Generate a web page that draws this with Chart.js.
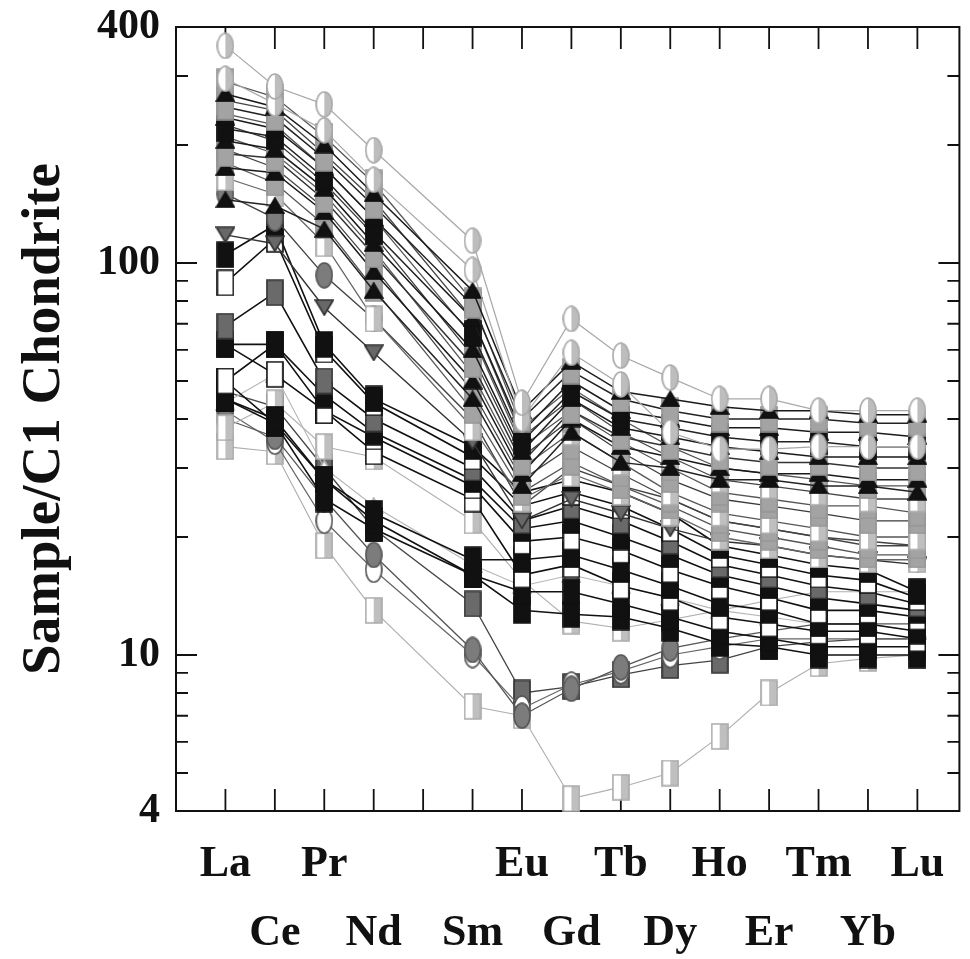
<!DOCTYPE html>
<html lang="en">
<head>
<meta charset="UTF-8">
<title>REE chondrite-normalised pattern</title>
<script src="https://cdn.jsdelivr.net/npm/chart.js"></script>
<style>
  body { margin: 0; background: #fff; }
  #wrap { width: 970px; height: 959px; }
</style>
</head>
<body>
<div id="wrap"><canvas id="ree"></canvas></div>
<script>
// elements along the x axis (Pm has no data)
const elements = ['La', 'Ce', 'Pr', 'Nd', 'Pm', 'Sm', 'Eu', 'Gd', 'Tb', 'Dy', 'Ho', 'Er', 'Tm', 'Yb', 'Lu'];
const tickNames = ['La', 'Ce', 'Pr', 'Nd', '', 'Sm', 'Eu', 'Gd', 'Tb', 'Dy', 'Ho', 'Er', 'Tm', 'Yb', 'Lu'];
const yLabels = [4, 10, 100, 400];
const yMinor = [5, 6, 7, 8, 9, 20, 30, 40, 50, 60, 70, 80, 90, 200, 300];
const yMajor = [10, 100];

// sample / C1 chondrite
const g1 = [358, 282, 254, 194, null, 114, 44, 72, 58, 51, 45, 45, 42, 42, 42];
const g2 = [295, 255, 218, 163, null, 96, 40, 59, 49, 37, 33.5, 33.5, 34, 34, 34];

const d1 = [270, 250, 200, 150, null, 85, 42, 56, 47, 45, 43, 42, 42, 41, 41];
const d2 = [250, 235, 185, 140, null, 78, 40, 53, 45, 42, 40, 40, 40, 39, 39];
const d3 = [235, 220, 175, 130, null, 72, 37, 50, 42, 40, 38, 38, 37, 37, 36];
const d4 = [220, 210, 165, 120, null, 66, 35, 47, 40, 38, 36, 35, 35, 34, 34];
const d5 = [205, 195, 155, 112, null, 60, 33, 45, 38, 36, 34, 33, 32, 32, 32];
const d6 = [190, 185, 145, 105, null, 55, 31, 42, 36, 34, 32, 31, 31, 30, 30];
const d7 = [175, 170, 135, 95, null, 50, 29, 40, 34, 32, 30, 29, 29, 28, 28];
const d8 = [145, 140, 122, 85, null, 45, 27, 37, 31, 30, 28, 28, 27, 27, 26];

const s1 = [290, 265, 210, 160, null, 80, 38, 48, 40, 34, 30, 29, 28, 27, 27];
const s2 = [260, 245, 190, 145, null, 72, 36, 45, 37, 32, 28, 27, 26, 25, 25];
const s3 = [240, 225, 175, 130, null, 65, 34, 42, 35, 30, 26, 25, 24, 24, 23];
const s4 = [225, 205, 160, 118, null, 58, 32, 40, 33, 28, 25, 24, 23, 22, 22];
const s5 = [210, 190, 150, 108, null, 52, 30, 37, 31, 26, 23, 22, 21, 20, 20];
const s6 = [195, 175, 138, 98, null, 47, 28, 34, 29, 25, 22, 21, 20, 19, 19];
const s7 = [180, 160, 125, 86, null, 42, 26, 31, 27, 24, 21, 20, 19, 18, 18];
const s8 = [165, 150, 112, 72, null, 38, 25, 29, 26, 23, 20, 19, 18, 17.5, 17.5];

const t1 = [118, 112, 77, 59, null, 35, 22, 25, 23, 21, 19.5, 19, 18, 17.5, 17];
const t2 = [150, 130, 93, 72, null, 40, 24, 30, 27, 25, 22, 21, 20, 19.5, 19];

const b1 = [105, 125, 62, 45, null, 34, 26, 28, 26, 23, 19, 18, 17, 16.5, 14.5];
const b2 = [89, 115, 60, 44, null, 32, 24, 26, 24, 21, 18, 17, 16, 15.5, 14];
const b3 = [69, 84, 50, 40, null, 30, 22, 24, 22, 19.5, 17, 16, 15, 14.5, 13.5];
const b4 = [62, 62, 46, 37, null, 28, 21, 22, 20, 18, 16, 15, 14, 13.5, 13];
const b5 = [50, 62, 42, 36, null, 27, 19.5, 20, 18.5, 16.5, 15, 14, 13, 13, 12.5];
const b6 = [45, 40, 28, 23, null, 17.5, 17.5, 18, 16.5, 15, 13.5, 13, 12, 12, 11.5];
const b7 = [62, 52, 42, 33, null, 25, 16, 17, 15, 14, 12.5, 12, 11.5, 11.5, 11];
const b8 = [50, 39, 28, 22, null, 16, 14.5, 14.5, 13.5, 12.5, 11.5, 11, 10.5, 10.5, 10.5];
const b9 = [45, 39, 25, 21, null, 16, 13, 12.7, 12.5, 11.7, 10.7, 10.5, 10, 10, 10];

const tr = [44, 52, 30, 24, null, 17, 15, 16, 15, 14, 13, 12.5, 12, 12, 11.5];
const l2 = [38, 44, 34, 32, null, 22, 15.5, 12.2, 11.7, 12.3, 13, 13.8, 14.5, 14.5, 14.5];
const c1 = [40, 36, 25, 18, null, 10.3, 7.0, 8.2, 9.3, 10.4, 11, 11.5, 12, 12, 12];
const c2 = [42, 35, 22, 16.5, null, 10, 7.3, 8.4, 9.1, 10, 10.5, 11, 11, 11, 11];
const c3 = [47, 43, 30, 21, null, 13.5, 8, 8.3, 8.9, 9.4, 9.7, 10.5, 10.8, 11, 11];
const l1 = [34, 33, 19, 13, null, 7.4, 7.0, 4.3, 4.6, 5.0, 6.2, 8, 9.5, 9.8, 10];

// marker images (the original symbols are tall and narrow)
function marker(shape, fill, stroke, half) {
    const tri = shape === 'triUp' || shape === 'triDown';
    const w = tri ? 20 : 18, h = tri ? 17 : 27;
    const c = document.createElement('canvas');
    c.width = w; c.height = h;
    const g = c.getContext('2d');
    g.lineWidth = 1.7;
    const path = () => {
        g.beginPath();
        if (shape === 'rect') g.rect(1, 1, w - 2, h - 2);
        else if (shape === 'ellipse') g.ellipse(w / 2, h / 2, w / 2 - 1, h / 2 - 1, 0, 0, Math.PI * 2);
        else if (shape === 'triUp') { g.moveTo(w / 2, 1); g.lineTo(w - 1, h - 1); g.lineTo(1, h - 1); g.closePath(); }
        else { g.moveTo(1, 1); g.lineTo(w - 1, 1); g.lineTo(w / 2, h - 1); g.closePath(); }
    };
    path(); g.fillStyle = '#fff'; g.fill();
    if (fill) {
        g.save(); path(); g.clip();
        g.fillStyle = fill;
        if (half) g.fillRect(w / 2, 0, w / 2, h); else g.fillRect(0, 0, w, h);
        g.restore();
    }
    path(); g.strokeStyle = stroke; g.stroke();
    return c;
}

const mk = {
    lgCircle: marker('ellipse', '#bdbdbd', '#a9a9a9', true),
    lgSquare: marker('rect', '#bfbfbf', '#ababab', true),
    gSquare: marker('rect', '#a3a3a3', '#969696', false),
    blkTri: marker('triUp', '#111', '#111', false),
    blkSquare: marker('rect', '#111', '#111', false),
    openSquare: marker('rect', null, '#111', false),
    dgSquare: marker('rect', '#6a6a6a', '#333', false),
    gCircle: marker('ellipse', '#7c7c7c', '#555', false),
    oCircle: marker('ellipse', null, '#555', false),
    dgTriDown: marker('triDown', '#686868', '#333', false),
    oTri: marker('triUp', null, '#aaa', false)
};

// series in drawing order (first one ends up on top)
const series = [
    [g1, 'lgCircle', '#a8a8a8', 1.2], [g2, 'lgCircle', '#a8a8a8', 1.2],
    [d1, 'blkTri', '#1a1a1a', 1.5], [d2, 'gSquare', '#222', 1.5], [d3, 'blkTri', '#1a1a1a', 1.5],
    [d4, 'blkSquare', '#222', 1.5], [d5, 'blkTri', '#1a1a1a', 1.5], [d6, 'gSquare', '#333', 1.5],
    [d7, 'blkTri', '#1a1a1a', 1.5], [d8, 'blkTri', '#222', 1.5],
    [s1, 'gSquare', '#555', 1.3], [s2, 'lgSquare', '#444', 1.3], [s3, 'gSquare', '#555', 1.3],
    [s4, 'gSquare', '#3a3a3a', 1.3], [s5, 'lgSquare', '#555', 1.3], [s6, 'gSquare', '#444', 1.3],
    [s7, 'gSquare', '#555', 1.3], [s8, 'lgSquare', '#666', 1.3],
    [t1, 'dgTriDown', '#333', 1.4], [t2, 'gCircle', '#444', 1.4],
    [b1, 'blkSquare', '#111', 1.6], [b2, 'openSquare', '#111', 1.6], [b3, 'dgSquare', '#111', 1.6],
    [b4, 'blkSquare', '#111', 1.6], [b5, 'openSquare', '#111', 1.6], [b6, 'blkSquare', '#111', 1.6],
    [b7, 'openSquare', '#111', 1.6], [b8, 'blkSquare', '#111', 1.6], [b9, 'blkSquare', '#111', 1.6],
    [tr, 'oTri', '#b5b5b5', 1.1], [l2, 'lgSquare', '#b0b0b0', 1.1],
    [c1, 'gCircle', '#555', 1.3], [c2, 'oCircle', '#666', 1.2], [c3, 'dgSquare', '#444', 1.3],
    [l1, 'lgSquare', '#b0b0b0', 1.2]
];

const datasets = series.map(([vals, m, col, lw]) => ({
    data: vals.map((v, i) => ({ x: i + 1, y: v })),
    borderColor: col,
    borderWidth: lw,
    pointStyle: mk[m],
    pointRadius: 9,
    spanGaps: true,
    clip: false
}));

// frame and inward ticks on all four sides
const frame = {
    id: 'frame',
    beforeDatasetsDraw(chart) {
        const { ctx, chartArea: a, scales: { x, y } } = chart;
        ctx.save();
        ctx.strokeStyle = '#111';
        ctx.lineWidth = 2;
        ctx.strokeRect(a.left, a.top, a.right - a.left, a.bottom - a.top);
        ctx.lineWidth = 1.8;
        ctx.beginPath();
        elements.forEach((e, i) => {
            const px = x.getPixelForValue(i + 1);
            ctx.moveTo(px, a.bottom); ctx.lineTo(px, a.bottom - 22);
            ctx.moveTo(px, a.top); ctx.lineTo(px, a.top + 22);
        });
        const yt = (v, len) => {
            const py = y.getPixelForValue(v);
            ctx.moveTo(a.left, py); ctx.lineTo(a.left + len, py);
            ctx.moveTo(a.right, py); ctx.lineTo(a.right - len, py);
        };
        yMinor.forEach(v => yt(v, 12));
        yMajor.forEach(v => yt(v, 21));
        ctx.stroke();
        ctx.restore();
    }
};

new Chart(document.getElementById('ree'), {
    type: 'line',
    data: { datasets },
    options: {
        responsive: true,
        maintainAspectRatio: false,
        animation: false,
        layout: { padding: { top: 27, right: 10, left: 0, bottom: 0 } },
        plugins: { legend: { display: false }, tooltip: { enabled: false } },
        scales: {
            x: {
                type: 'linear',
                min: 0,
                max: 15.85,
                grid: { display: false },
                border: { display: false },
                afterBuildTicks: ax => { ax.ticks = elements.map((e, i) => ({ value: i + 1 })); },
                afterFit: ax => { ax.height = 148; },
                ticks: {
                    autoSkip: false,
                    maxRotation: 0,
                    padding: 12,
                    color: '#111',
                    font: { family: 'Liberation Serif', weight: 'bold', size: 44, lineHeight: 1.55 },
                    callback: v => {
                        const name = tickNames[v - 1] || '';
                        return v % 2 === 1 ? [name, ''] : ['', name];
                    }
                }
            },
            y: {
                type: 'logarithmic',
                min: 4,
                max: 400,
                grid: { display: false },
                border: { display: false },
                afterBuildTicks: ax => { ax.ticks = yLabels.map(v => ({ value: v })); },
                afterFit: ax => { ax.width = 176; ax.paddingTop = 0; ax.paddingBottom = 0; },
                title: {
                    display: true,
                    text: 'Sample/C1 Chondrite',
                    color: '#111',
                    padding: { top: 12, bottom: 0 },
                    font: { family: 'Liberation Serif', weight: 'bold', size: 55 }
                },
                ticks: {
                    autoSkip: false,
                    padding: 8,
                    color: '#111',
                    font: { family: 'Liberation Serif', weight: 'bold', size: 42 },
                    callback: v => String(v)
                }
            }
        }
    },
    plugins: [frame]
});
</script>
</body>
</html>
